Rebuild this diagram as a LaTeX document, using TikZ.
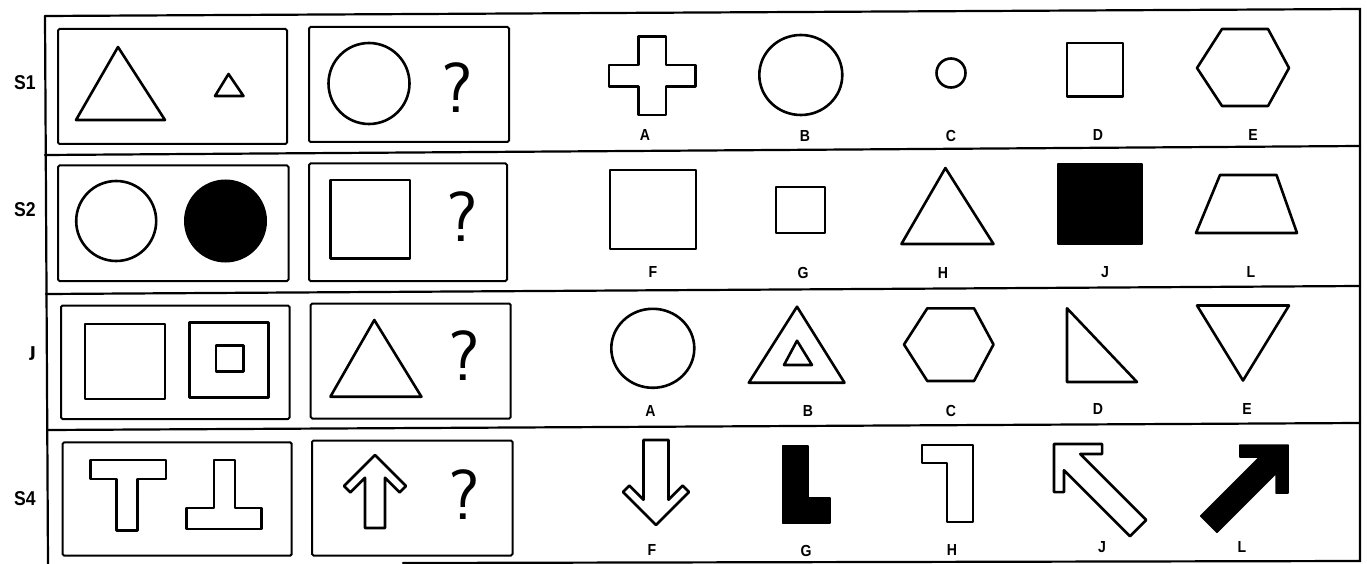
\documentclass[tikz,border=0pt]{standalone}
\usepackage{fontspec}
\newfontfamily\labfont{Liberation Sans}[FakeStretch=0.88]
\newfontfamily\djfont{DejaVu Sans}
\newcommand{\arrowoutline}[4]{(0,0) -- (-#1,#1) -- ({-#1+#2*0.7071},{#1+#2*0.7071}) -- (-#3,{#3+#2*1.4142}) -- (-#3,#4) -- (#3,#4) -- (#3,{#3+#2*1.4142}) -- ({#1-#2*0.7071},{#1+#2*0.7071}) -- (#1,#1) -- cycle}
\begin{document}
\begin{tikzpicture}[x=1pt,y=-1pt,
  frameline/.style={line width=2.2pt, line cap=round},
  panel/.style={draw, line width=2pt, rounded corners=1.5pt},
  outline/.style={draw, line width=2.6pt, line join=round},
  blackfill/.style={fill=black, draw=black, line width=1.5pt, line join=round},
  optlabel/.style={font=\labfont\bfseries\fontsize{16}{16}\selectfont, inner sep=0pt},
  rowlabel/.style={font=\labfont\bfseries\fontsize{20}{20}\selectfont, inner sep=0pt},
  qmark/.style={font=\sffamily\fontsize{71}{71}\selectfont, inner sep=0pt}]
\useasboundingbox (0,0) rectangle (1367,564);
\fill[white] (0,0) rectangle (1367,564);
% frame
\coordinate (tl) at (45,16);
\coordinate (tr) at (1360,9);
\coordinate (bl) at (48,564);
\coordinate (br) at (1360,561);
\coordinate (bm) at (403,563);
\coordinate (s1l) at (45,155); \coordinate (s1r) at (1360,146);
\coordinate (s2l) at (46,294); \coordinate (s2r) at (1360,286);
\coordinate (s3l) at (47,430); \coordinate (s3r) at (1360,423);
\draw[frameline] (tl) -- (tr) -- (br) -- (bm);
\draw[frameline] (tl) -- (bl);
\draw[frameline] (s1l) -- (s1r);
\draw[frameline] (s2l) -- (s2r);
\draw[frameline] (s3l) -- (s3r);
% row labels
\node[rowlabel] (r1) at (25,83) {S1};
\node[rowlabel] (r2) at (25,210) {S2};
\node[font=\djfont\bfseries\fontsize{18}{18}\selectfont, inner sep=0pt] (r3) at (33,354) {ȷ};
\node[rowlabel] (r4) at (25,499) {S4};
% ---------- Row 1
\draw[panel] (58,29) rectangle (287,144);
\draw[panel] (309,27) rectangle (509,142);
\draw[outline] (118,47) -- (165,120) -- (76,120) -- cycle;
\draw[outline] (228.5,74) -- (243.5,96) -- (215,96) -- cycle;
\draw[outline] (369,83.5) circle (40.5);
\node[qmark] (q1) at (457,87.5) {?};
\draw[outline] (609,65) -- (638.6,65) -- (638.6,36.7) -- (666,36.7) -- (666,65) -- (695.5,65) -- (695.5,86.7) -- (666,86.7) -- (666,115) -- (638.6,115) -- (638.6,86.7) -- (609,86.7) -- cycle;
\draw[outline] (800.8,75) ellipse (41.5 and 40);
\draw[outline] (951,73) circle (14.5);
\draw[outline] (1067,43) rectangle (1123,96.5);
\draw[outline] (1222,29) -- (1268,29) -- (1289,68) -- (1268,106) -- (1222,106) -- (1197,68) -- cycle;
\node[optlabel] (a1) at (645,135) {A};
\node[optlabel] (b1) at (805,136) {B};
\node[optlabel] (c1) at (951,136) {C};
\node[optlabel] (d1) at (1098,135) {D};
\node[optlabel] (e1) at (1253,135) {E};
% ---------- Row 2
\draw[panel] (58,165.5) rectangle (288.5,281);
\draw[panel] (309,163.5) rectangle (507,281);
\draw[outline] (116.2,221) circle (40);
\fill[black] (225.5,221) circle (41.5);
\draw[outline] (330.4,180) rectangle (410,258.3);
\node[qmark] (q2) at (462.5,217) {?};
\draw[outline] (610,170) rectangle (696,249);
\draw[outline] (776,187) rectangle (825,233);
\draw[outline] (945.4,168) -- (993.5,244) -- (901.4,244) -- cycle;
\draw[blackfill] (1058,164) rectangle (1142,244);
\draw[outline] (1220,175) -- (1276.5,175) -- (1297,233) -- (1196,233) -- cycle;
\node[optlabel] (f2) at (653,272) {F};
\node[optlabel] (g2) at (803,273) {G};
\node[optlabel] (h2) at (943,273) {H};
\node[optlabel] (j2) at (1105,272) {J};
\node[optlabel] (l2) at (1251,272) {L};
% ---------- Row 3
\draw[panel] (61,305.5) rectangle (289.5,419);
\draw[panel] (310.7,303.5) rectangle (510.7,418.5);
\draw[outline] (85,324) rectangle (165,399);
\draw[outline] (189.3,322.3) rectangle (268.3,397.3);
\draw[outline] (216,345.7) rectangle (243.3,371.3);
\draw[outline] (374.3,320) -- (421.4,396.7) -- (330.4,396.7) -- cycle;
\node[qmark] (q3) at (464,356) {?};
\draw[outline] (652.8,348.3) ellipse (41.5 and 39.5);
\draw[outline] (797,306.7) -- (844.5,382.7) -- (748.8,382.7) -- cycle;
\draw[outline] (797,340.7) -- (812,365) -- (784,365) -- cycle;
\draw[outline] (927.3,308.3) -- (974,308.3) -- (993.5,344.5) -- (974,381) -- (927.3,381) -- (904,344.5) -- cycle;
\draw[outline] (1067,308.3) -- (1137,382) -- (1067,382) -- cycle;
\draw[outline] (1197,305.5) -- (1289,305.5) -- (1243,380.5) -- cycle;
\node[optlabel] (a3) at (650.5,411) {A};
\node[optlabel] (b3) at (808,411) {B};
\node[optlabel] (c3) at (951,411) {C};
\node[optlabel] (d3) at (1098,409) {D};
\node[optlabel] (e3) at (1247,409) {E};
% ---------- Row 4
\draw[panel] (62.7,442.3) rectangle (291.7,555.7);
\draw[panel] (312,440.5) rectangle (512.5,555.5);
\draw[outline] (90.7,460) -- (166,460) -- (166,479) -- (137.3,479) -- (137.3,530.7) -- (116.7,530.7) -- (116.7,479) -- (90.7,479) -- cycle;
\draw[outline] (214,460) -- (235,460) -- (235,508) -- (261.7,508) -- (261.7,529) -- (186.7,529) -- (186.7,508) -- (214,508) -- cycle;
\draw[outline, shift={(375,455)}] \arrowoutline{31}{9}{10}{73};
\node[qmark] (q4) at (464,495) {?};
\draw[outline, shift={(656,525)}, rotate=180] \arrowoutline{33}{9}{12.5}{85};
\draw[blackfill] (782.5,446) -- (808,446) -- (808,498) -- (830,498) -- (830,523) -- (782.5,523) -- cycle;
\draw[outline] (922,445) -- (973,445) -- (973,522) -- (947,522) -- (947,463) -- (922,463) -- cycle;
\draw[outline, shift={(1054,444)}, rotate=45] \arrowoutline{34}{10}{11.5}{119};
\draw[blackfill, shift={(1288,445)}, rotate=-45] \arrowoutline{34}{12}{11.5}{112};
\node[optlabel] (f4) at (652,550) {F};
\node[optlabel] (g4) at (806,551) {G};
\node[optlabel] (h4) at (952,550) {H};
\node[optlabel] (j4) at (1102,547) {J};
\node[optlabel] (l4) at (1242,547) {L};
\end{tikzpicture}
\end{document}
